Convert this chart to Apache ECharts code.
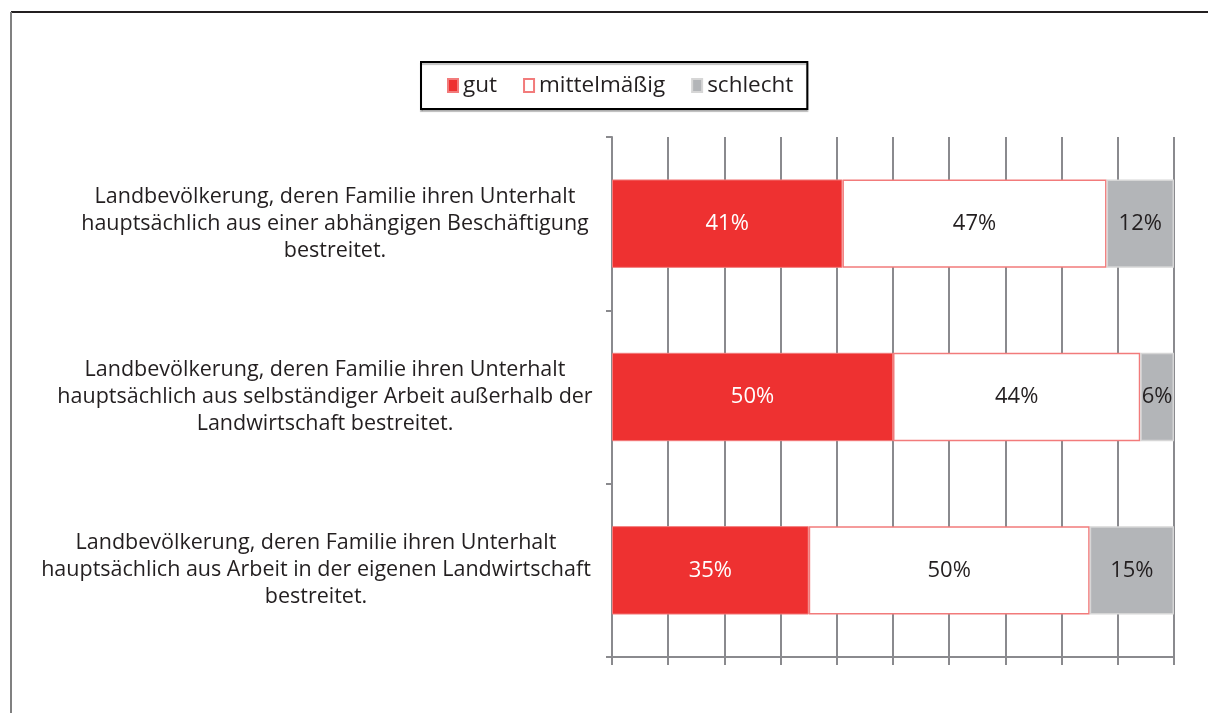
<!DOCTYPE html>
<html>
<head>
<meta charset="utf-8">
<script src="https://cdn.jsdelivr.net/npm/echarts@6/dist/echarts.min.js"></script>
<style>
html,body{margin:0;padding:0;background:#fff;}
#main{width:1208px;height:713px;}
</style>
</head>
<body>
<div id="main"></div>
<script>
const categories = [
  'Landbevölkerung, deren Familie ihren Unterhalt\nhauptsächlich aus einer abhängigen Beschäftigung\nbestreitet.',
  'Landbevölkerung, deren Familie ihren Unterhalt\nhauptsächlich aus selbständiger Arbeit außerhalb der\nLandwirtschaft bestreitet.',
  'Landbevölkerung, deren Familie ihren Unterhalt\nhauptsächlich aus Arbeit in der eigenen Landwirtschaft\nbestreitet.'
];
const seriesNames = ['gut', 'mittelmäßig', 'schlecht'];
const gut = [41, 50, 35];
const mittel = [47, 44, 50];
const schlecht = [12, 6, 15];

const FONT = 'Open Sans';
const chart = echarts.init(document.getElementById('main'), null, {renderer: 'canvas'});

const labelFmt = p => p.value + '%';
const labelPad = [0, 20, 38];

chart.setOption({
  animation: false,
  backgroundColor: '#fff',
  textStyle: {fontFamily: FONT},
  graphic: [
    {type: 'line', shape: {x1: 11, y1: 12, x2: 1208, y2: 12}, style: {stroke: '#231f20', lineWidth: 2}},
    {type: 'line', shape: {x1: 11, y1: 12, x2: 11, y2: 713}, style: {stroke: '#808080', lineWidth: 2}}
  ],
  legend: {
    data: seriesNames,
    left: 421,
    top: 62,
    padding: [12, 14, 12, 26],
    itemGap: 26,
    itemWidth: 10,
    itemHeight: 13,
    icon: 'rect',
    backgroundColor: '#fff',
    borderColor: '#000',
    borderWidth: 2,
    shadowColor: 'rgba(0,0,0,0.25)',
    shadowOffsetY: 2,
    shadowBlur: 1,
    textStyle: {fontFamily: FONT, fontSize: 22.5, color: '#231f20', padding: [0, 0, 0, 0]}
  },
  grid: {left: 612, right: 34, top: 137, bottom: 56, containLabel: false, outerBoundsMode: 'none'},
  xAxis: {
    type: 'value',
    min: 0,
    max: 100,
    interval: 10,
    axisLabel: {show: false},
    axisLine: {show: true, lineStyle: {color: '#8a8a8e', width: 2}},
    axisTick: {show: true, length: 8, lineStyle: {color: '#8a8a8e', width: 2}},
    splitLine: {show: true, lineStyle: {color: '#8a8a8e', width: 2}}
  },
  yAxis: {
    type: 'category',
    inverse: true,
    data: categories.map((c, i) => ({
      value: c,
      textStyle: {
        align: 'center',
        padding: [0, labelPad[i], 0, 0],
        fontFamily: FONT,
        fontSize: 21.5,
        lineHeight: 27,
        color: '#231f20'
      }
    })),
    axisLine: {show: true, lineStyle: {color: '#8a8a8e', width: 2}},
    axisTick: {show: true, length: 6, lineStyle: {color: '#8a8a8e', width: 2}},
    axisLabel: {
      align: 'center',
      margin: 277,
      fontFamily: FONT,
      fontSize: 21.5,
      lineHeight: 27,
      color: '#231f20'
    }
  },
  series: [
    {
      name: seriesNames[0], type: 'bar', stack: 'total', barWidth: '51%',
      data: gut,
      itemStyle: {color: '#ee3131', borderColor: '#f27b7b', borderWidth: 1},
      label: {show: true, position: 'inside', formatter: labelFmt, color: '#fff', fontSize: 22, fontFamily: FONT}
    },
    {
      name: seriesNames[1], type: 'bar', stack: 'total',
      data: mittel,
      itemStyle: {color: '#fff', borderColor: '#f27b7b', borderWidth: 1.5},
      label: {show: true, position: 'inside', formatter: labelFmt, color: '#231f20', fontSize: 22, fontFamily: FONT}
    },
    {
      name: seriesNames[2], type: 'bar', stack: 'total',
      data: schlecht,
      itemStyle: {color: '#b3b5b8', borderColor: '#d6d6d6', borderWidth: 1.5},
      label: {show: true, position: 'inside', formatter: labelFmt, color: '#231f20', fontSize: 22, fontFamily: FONT}
    }
  ]
});
</script>
</body>
</html>
